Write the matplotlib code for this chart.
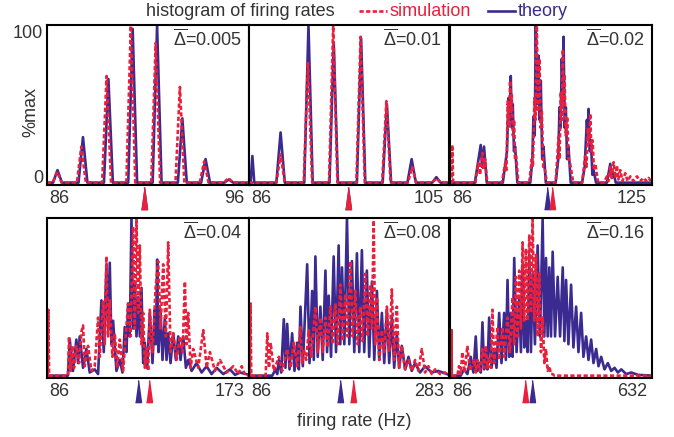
import numpy as np
import matplotlib
matplotlib.use('Agg')
import matplotlib.pyplot as plt
from matplotlib.lines import Line2D

plt.rcParams['font.family'] = ['Liberation Sans', 'DejaVu Sans']
plt.rcParams['mathtext.fontset'] = 'custom'
plt.rcParams['mathtext.rm'] = 'Liberation Sans'
plt.rcParams['mathtext.it'] = 'Liberation Sans:italic'
plt.rcParams['mathtext.bf'] = 'Liberation Sans:bold'

BLUE = '#3b2a8f'
RED = '#e8203c'
GRAY = '#333333'

# panel settings
deltas = ['0.005', '0.01', '0.02', '0.04', '0.08', '0.16']
x_lo = [86, 86, 86, 86, 86, 86]
x_hi = [96, 105, 125, 173, 283, 632]
mean_sim = [90.8, 95.4, 105.7, 129.9, 188.4, 288.7]
mean_theory = [90.8, 95.4, 104.7, 125.2, 175.6, 307.6]

# histogram curves, (rate Hz, % of max)
p1_theory = [(86, 0), (86.30, 0), (86.52, 8), (86.74, 0), (87.56, 0), (87.78, 29), (88.00, 0),
             (88.82, 0), (89.04, 66), (89.26, 0), (90.02, 0), (90.24, 98), (90.46, 0),
             (91.23, 0), (91.45, 100), (91.67, 0), (92.48, 0), (92.70, 41), (92.92, 0),
             (93.63, 0), (93.85, 15), (94.07, 0), (94.78, 0), (95.00, 2), (95.22, 0), (96, 0)]
p1_sim = [(86, 0), (86.28, 0), (86.50, 7), (86.72, 0), (87.48, 0), (87.70, 23), (87.92, 0),
          (88.73, 0), (88.95, 68), (89.17, 0), (89.93, 0), (90.15, 100), (90.37, 0),
          (91.16, 0), (91.38, 89), (91.60, 0), (92.36, 0), (92.58, 61), (92.80, 0),
          (93.56, 0), (93.78, 13.5), (94.00, 0), (94.76, 0), (94.98, 3), (95.20, 0), (96, 0)]

p2_theory = [(86, 0), (86.15, 0), (86.32, 17), (86.5, 0), (88.6, 0), (89.0, 32), (89.4, 0),
             (91.25, 0), (91.65, 100), (92.05, 0), (93.65, 0), (94.05, 89), (94.45, 0),
             (96.25, 0), (96.65, 92), (97.05, 0), (98.7, 0), (99.1, 50), (99.5, 0),
             (101.05, 0), (101.45, 15), (101.85, 0), (103.4, 0), (103.8, 3.5), (104.2, 0), (105, 0)]
p2_sim = [(86, 0), (88.6, 0), (89.0, 18), (89.4, 0), (91.2, 0), (91.6, 77), (92.0, 0),
          (93.6, 0), (94.0, 100), (94.4, 0), (96.2, 0), (96.6, 93), (97.0, 0),
          (98.65, 0), (99.05, 52), (99.45, 0), (101.1, 0), (101.5, 10), (101.9, 0),
          (103.4, 0), (103.8, 2.7), (104.2, 0), (105, 0)]

p3_theory = [(86, 0), (90.8, 0), (91.93, 24), (92.2, 10), (92.57, 23), (93.1, 0),
             (96.2, 0), (97.0, 20), (97.28, 54), (97.5, 40), (97.73, 68), (97.95, 35),
             (98.12, 50), (98.35, 20), (98.57, 23), (99.0, 0), (101.5, 0), (101.9, 15),
             (102.11, 42), (102.35, 30), (102.57, 100), (102.8, 50), (103.08, 81), (103.3, 40),
             (103.53, 65), (103.8, 15), (104.05, 23), (104.5, 0), (106.4, 0), (106.9, 15),
             (107.14, 48), (107.35, 35), (107.59, 79), (107.75, 60), (107.92, 93), (108.15, 35),
             (108.37, 48), (108.6, 15), (108.88, 23), (109.3, 0), (111.5, 0), (112.0, 10),
             (112.43, 40), (112.6, 30), (112.75, 47), (113.0, 20), (113.2, 27), (113.5, 5),
             (113.72, 8), (114.2, 0), (116.3, 0), (116.94, 12), (117.25, 3), (117.59, 6),
             (118.0, 0), (125, 0)]
p3_sim = [(86, 0), (86.3, 0), (86.45, 24), (86.6, 0), (90.9, 0), (91.48, 12.5), (91.8, 5),
          (92.25, 19), (92.5, 8), (92.77, 15), (93.2, 0), (96.0, 0), (96.64, 12), (96.9, 8),
          (97.15, 52), (97.4, 35), (97.6, 65), (97.75, 45), (97.92, 56), (98.15, 30),
          (98.38, 40), (98.55, 15), (98.76, 17), (99.2, 0), (101.3, 0), (101.79, 15),
          (102.0, 10), (102.31, 54), (102.5, 40), (102.76, 100), (103.0, 45), (103.28, 79),
          (103.5, 35), (103.73, 46), (104.0, 10), (104.24, 10), (104.7, 0), (106.4, 0),
          (106.95, 29), (107.15, 15), (107.4, 58), (107.6, 40), (107.79, 85), (107.95, 50),
          (108.11, 69), (108.35, 30), (108.63, 42), (108.9, 15), (109.2, 12), (109.8, 0),
          (111.5, 0), (112.1, 17), (112.35, 10), (112.62, 35), (112.85, 25), (113.07, 44),
          (113.3, 20), (113.52, 27), (113.8, 8), (114.04, 12), (114.6, 0), (115.7, 0),
          (116.3, 4), (116.6, 1), (116.94, 10), (117.2, 3), (117.59, 13), (117.9, 3),
          (118.23, 11), (118.5, 2), (118.87, 8), (119.3, 1), (119.84, 6), (120.3, 1),
          (120.81, 4), (121.4, 1), (122.1, 4), (122.7, 1), (123.39, 3), (123.9, 1),
          (124.35, 3), (125, 0)]

p4_theory = [(86, 0), (95.0, 0), (95.78, 23), (97.2, 3), (98.65, 23), (99.37, 8), (100.09, 25),
             (101.53, 5), (102.97, 17), (104.4, 2), (106.56, 4), (108.0, 1), (109.44, 48),
             (110.45, 15), (111.6, 71), (112.32, 30), (113.03, 72), (113.75, 20), (114.47, 35),
             (115.91, 3), (117.35, 10), (118.5, 2), (119.5, 31), (120.22, 15), (120.94, 46),
             (121.66, 25), (122.38, 100), (123.1, 30), (123.82, 60), (124.54, 25), (125.26, 50),
             (125.98, 25), (126.7, 56), (127.42, 8), (128.13, 21), (129.14, 5), (130.29, 40),
             (131.44, 8), (132.45, 42), (132.88, 20), (133.45, 74), (134.03, 15), (134.89, 42),
             (135.75, 10), (136.76, 37), (137.48, 10), (138.2, 27), (139.21, 8), (140.36, 27),
             (141.51, 10), (142.52, 25), (143.52, 10), (144.67, 25), (145.82, 5), (146.83, 10),
             (148.27, 3), (150.42, 8), (152.58, 2), (154.74, 6), (156.89, 1), (159.05, 5),
             (161.93, 1), (164.8, 4), (166.96, 0.5), (169.12, 2), (173, 0.5)]
p4_sim = [(86, 0), (86.3, 0), (86.6, 42), (86.9, 0), (95.06, 0), (95.49, 25), (96.21, 3),
          (96.93, 19), (97.65, 5), (98.65, 19), (99.8, 8), (100.81, 28), (101.53, 32),
          (102.25, 6), (103.69, 19), (105.12, 3), (106.56, 6), (108.0, 37), (108.72, 12),
          (110.16, 48), (110.88, 20), (111.6, 76), (112.32, 25), (113.03, 48), (114.18, 12),
          (115.19, 27), (116.2, 5), (117.35, 23), (118.79, 3), (120.94, 46), (121.94, 25),
          (123.1, 95), (123.82, 30), (124.54, 100), (125.26, 40), (125.98, 83), (126.7, 20),
          (127.42, 40), (128.13, 5), (128.85, 17), (129.57, 3), (130.29, 42), (131.44, 15),
          (132.73, 55), (133.88, 73), (134.89, 30), (136.04, 71), (137.19, 25), (138.2, 85),
          (139.21, 15), (140.36, 27), (141.8, 10), (143.24, 25), (144.39, 15), (145.39, 60),
          (146.11, 20), (146.83, 40), (147.84, 5), (148.99, 17), (151.14, 5), (153.3, 29),
          (154.74, 5), (156.17, 15), (158.33, 3), (160.49, 10), (163.37, 2), (166.24, 6),
          (168.4, 1), (169.84, 6), (171.27, 0.5), (173, 0)]

p5_theory = [(86, 0), (108.9, 0), (112.2, 4), (113.8, 1), (115.4, 10), (117.7, 2), (120.3, 36),
             (121.9, 5), (123.6, 33), (125.9, 4), (128.5, 27), (130.8, 3), (133.4, 21),
             (135.1, 4), (136.7, 44), (139.0, 6), (143.3, 71), (145.6, 8), (148.2, 54),
             (149.8, 10), (151.4, 76), (153.7, 12), (156.3, 44), (158.6, 10), (161.3, 67),
             (162.9, 15), (164.5, 51), (166.8, 12), (169.4, 76), (171.7, 15), (174.3, 83),
             (175.9, 20), (177.6, 69), (179.9, 20), (182.5, 100), (184.8, 20), (187.4, 73),
             (189.7, 15), (192.3, 78), (194.6, 15), (197.2, 80), (199.5, 15), (202.1, 67),
             (204.4, 12), (207.1, 60), (209.4, 10), (212.0, 54), (214.3, 10), (216.9, 40),
             (219.2, 8), (221.8, 42), (224.1, 8), (226.7, 37), (229.0, 5), (231.6, 27),
             (233.9, 5), (236.5, 19), (239.8, 4), (243.1, 12), (246.3, 3), (249.6, 8),
             (254.5, 2), (259.4, 6), (266.0, 2), (272.5, 3), (283, 0.5)]
p5_sim = [(86, 0), (86.8, 0), (87.5, 46), (88.2, 0), (102.4, 0), (104.0, 27), (105.7, 5),
          (107.3, 21), (110.5, 3), (115.4, 12), (118.7, 3), (123.6, 17), (126.9, 5),
          (130.2, 21), (133.4, 6), (136.7, 31), (138.4, 8), (140.0, 17), (142.3, 10),
          (144.9, 29), (147.2, 12), (151.4, 44), (153.7, 15), (156.3, 37), (158.6, 15),
          (161.3, 37), (163.6, 18), (166.2, 44), (168.5, 20), (171.1, 46), (173.4, 20),
          (176.0, 58), (178.2, 22), (180.9, 52), (183.2, 25), (185.8, 73), (188.1, 25),
          (190.7, 54), (193.0, 20), (195.6, 44), (197.9, 22), (200.6, 65), (202.9, 25),
          (205.5, 58), (207.1, 30), (208.8, 99), (210.4, 20), (212.0, 50), (214.3, 10),
          (216.9, 29), (219.2, 15), (221.8, 44), (224.1, 15), (226.7, 55), (229.0, 10),
          (231.6, 44), (233.9, 5), (236.5, 19), (239.8, 4), (243.1, 10), (246.3, 3),
          (249.6, 10), (252.9, 3), (256.2, 17), (259.4, 2), (262.7, 6), (266.0, 1),
          (269.3, 4), (274.2, 1), (279.1, 2), (283, 0)]

p6_theory = [(86, 0), (89.3, 0), (90, 29), (90.8, 0), (114.9, 0), (124.0, 4), (133.0, 1),
             (142.0, 12), (149.3, 2), (155.6, 25), (160.1, 3), (164.6, 8), (169.2, 2),
             (173.7, 34), (178.2, 4), (182.7, 15), (187.3, 4), (191.8, 37), (198.1, 5),
             (205.3, 17), (211.7, 5), (218.9, 40), (225.2, 8), (232.4, 40), (237.0, 10),
             (241.5, 61), (246.0, 12), (250.5, 40), (255.0, 12), (259.6, 75), (265.9, 15),
             (273.1, 50), (277.7, 15), (282.2, 71), (286.7, 18), (291.2, 35), (295.7, 15),
             (300.3, 77), (304.8, 15), (309.3, 65), (315.6, 20), (322.9, 83), (329.2, 25),
             (336.4, 100), (341.0, 25), (345.5, 75), (350.0, 25), (354.5, 69), (359.0, 25),
             (363.5, 79), (369.9, 25), (377.1, 63), (383.5, 25), (390.7, 69), (395.2, 22),
             (399.7, 61), (406.1, 20), (413.3, 58), (419.6, 18), (426.9, 44), (433.2, 15),
             (440.4, 40), (446.7, 12), (454.0, 25), (460.3, 10), (467.5, 23), (473.8, 8),
             (481.1, 17), (487.4, 6), (494.6, 12), (503.7, 4), (512.7, 8), (521.8, 3),
             (530.8, 5), (539.8, 2), (548.9, 4), (562.4, 1), (576.0, 2), (594.1, 0.5), (632, 0)]
p6_sim = [(86, 0), (89.3, 0), (90, 29), (90.8, 0), (105.9, 0), (110.4, 6), (114.9, 1),
          (119.4, 15), (125.8, 2), (133.0, 19), (140.2, 3), (151.1, 10), (155.6, 2),
          (160.1, 10), (166.4, 3), (173.7, 17), (178.2, 5), (182.7, 19), (187.3, 5),
          (191.8, 12), (196.3, 5), (200.8, 42), (205.3, 8), (214.4, 31), (218.9, 10),
          (228.0, 31), (232.4, 12), (241.5, 37), (247.9, 15), (255.0, 50), (259.6, 20),
          (264.1, 63), (268.6, 25), (273.1, 67), (277.7, 30), (282.2, 85), (286.7, 35),
          (291.2, 81), (295.7, 35), (300.3, 90), (304.8, 40), (309.3, 100), (313.8, 35),
          (318.4, 77), (322.9, 25), (327.4, 65), (331.9, 15), (336.4, 37), (341.0, 8),
          (345.5, 17), (350.0, 3), (354.5, 6), (359.0, 1), (363.5, 1), (368, 0), (632, 0)]

theory_curves = [p1_theory, p2_theory, p3_theory, p4_theory, p5_theory, p6_theory]
sim_curves = [p1_sim, p2_sim, p3_sim, p4_sim, p5_sim, p6_sim]

W, H = 674, 437
fig = plt.figure(figsize=(W / 100, H / 100), dpi=100)


def rect(l, t, r, b):
    return [l / W, 1 - b / H, (r - l) / W, (b - t) / H]


cols = [(47, 249), (249, 449), (450, 652)]
rows = [(25, 185), (218, 378)]
tri = [(-0.27, -1), (0.27, -1), (0, 1)]
dash = (0, (1.6, 0.9))

for i in range(6):
    l, r = cols[i % 3]
    t, b = rows[i // 3]
    ax = fig.add_axes(rect(l, t, r, b))
    xt, yt = np.array(theory_curves[i]).T
    xs, ys = np.array(sim_curves[i]).T
    ax.plot(xt, yt, color=BLUE, lw=1.9)
    ax.plot(xs, ys, color=RED, lw=1.9, linestyle=dash)
    ax.set_xlim(x_lo[i], x_hi[i])
    ax.set_ylim(-1.5, 100.5)
    ax.set_xticks([])
    ax.set_yticks([])
    for s in ax.spines.values():
        s.set_linewidth(1.5)
        s.set_zorder(5)
    wpx = r - l
    ax.text(2 / wpx, -0.03, str(x_lo[i]), transform=ax.transAxes, ha='left', va='top',
            fontsize=13, color=GRAY)
    ax.text(1 - 5 / wpx, -0.03, str(x_hi[i]), transform=ax.transAxes, ha='right', va='top',
            fontsize=13, color=GRAY)
    ax.text(1 - 7 / wpx, 1 - 4 / 160, r'$\overline{\Delta}$=' + deltas[i], transform=ax.transAxes,
            ha='right', va='top', fontsize=13, color=GRAY)
    tr = ax.get_xaxis_transform()
    ax.plot([mean_theory[i]], [-0.08], marker=tri, ms=16, color=BLUE, ls='none',
            transform=tr, clip_on=False)
    ax.plot([mean_sim[i]], [-0.08], marker=tri, ms=16, color=RED, ls='none',
            transform=tr, clip_on=False)
    if i == 0:
        ax.text(-4 / wpx, 0.945, '100', transform=ax.transAxes, ha='right', va='center',
                fontsize=13, color=GRAY)
        ax.text(-4 / wpx, 0.04, '0', transform=ax.transAxes, ha='right', va='center',
                fontsize=13, color=GRAY)

fig.text(31 / W, 1 - 112 / H, '%max', rotation=90, ha='center', va='center', fontsize=13, color=GRAY)
fig.text(354 / W, 1 - 422 / H, 'firing rate (Hz)', ha='center', va='center', fontsize=13, color=GRAY)

# legend row on top
ly = 1 - 11 / H
fig.text(146 / W, ly, 'histogram of firing rates', ha='left', va='center', fontsize=13, color=GRAY)
fig.add_artist(Line2D([359 / W, 387 / W], [ly, ly], color=RED, lw=1.9, linestyle=dash,
                      transform=fig.transFigure))
fig.text(389 / W, ly, 'simulation', ha='left', va='center', fontsize=13, color=RED)
fig.add_artist(Line2D([488 / W, 515 / W], [ly, ly], color=BLUE, lw=1.9, transform=fig.transFigure))
fig.text(518 / W, ly, 'theory', ha='left', va='center', fontsize=13, color=BLUE)

fig.savefig('out.png', dpi=100)
